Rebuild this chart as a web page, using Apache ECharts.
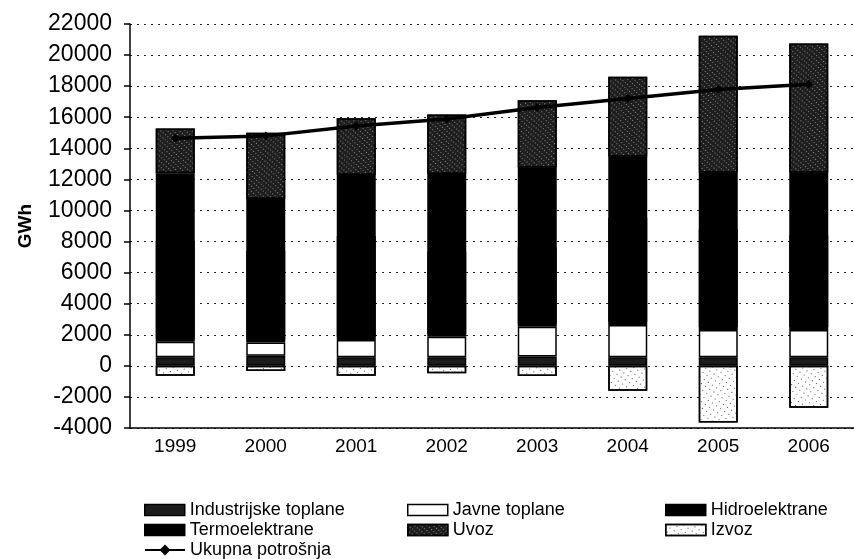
<!DOCTYPE html>
<html>
<head>
<meta charset="utf-8">
<script src="https://cdn.jsdelivr.net/npm/echarts@6/dist/echarts.min.js"></script>
<style>
html, body { margin: 0; padding: 0; background: #fff; }
#main { width: 854px; height: 559px; }
</style>
</head>
<body>
<div id="main"></div>
<script>
var years = ['1999', '2000', '2001', '2002', '2003', '2004', '2005', '2006'];
var industrijske = [550, 650, 550, 550, 600, 550, 550, 550];
var javne = [1000, 860, 1110, 1320, 1920, 2075, 1750, 1750];
var hidro = [6300, 5700, 6500, 5300, 4900, 6700, 6300, 5900];
var termo = [4540, 3520, 4120, 5170, 5330, 4135, 3830, 4230];
var uvoz = [2890, 4270, 3650, 3840, 4350, 5140, 8810, 8320];
var izvoz = [-640, -330, -640, -480, -650, -1600, -3640, -2700];
var ukupno = [14640, 14800, 15430, 15880, 16630, 17210, 17790, 18130];

var font = 'Liberation Sans, Arial, sans-serif';

function barSeries(name, data, color, border, decal) {
    var s = {
        name: name,
        type: 'bar',
        stack: 'gwh',
        barWidth: 39,
        data: data,
        itemStyle: {
            color: color,
            borderColor: '#000',
            borderWidth: border
        }
    };
    if (decal) s.itemStyle.decal = decal;
    return s;
}

// one legend per item so the 3x3 layout stays fixed
function legendItem(name, left, top) {
    return {
        left: left,
        top: top,
        itemWidth: 40,
        itemHeight: 11,
        icon: name == 'Ukupna potrošnja' ? undefined : 'rect',
        itemStyle: { borderWidth: 1.5, borderColor: '#000', shadowOffsetY: 0 },
        textStyle: { fontFamily: font, fontSize: 18, color: '#000' },
        data: [name]
    };
}

function initChart() {
    var chart = echarts.init(document.getElementById('main'));
    var hidroSeries = barSeries('Hidroelektrane', hidro, '#000', 1.5);
    // black shadow pushed up under the Termo block hides the anti-alias seam
    hidroSeries.itemStyle.shadowColor = '#000';
    hidroSeries.itemStyle.shadowBlur = 0;
    hidroSeries.itemStyle.shadowOffsetY = -3;
    var option = {
        animation: false,
        backgroundColor: '#fff',
        grid: { left: 130, top: 24, width: 736, height: 404 },
        legend: [
            legendItem('Industrijske toplane', 139, 496),
            legendItem('Javne toplane', 402, 496),
            legendItem('Hidroelektrane', 660, 496),
            legendItem('Termoelektrane', 139, 516),
            legendItem('Uvoz', 402, 516),
            legendItem('Izvoz', 660, 516),
            legendItem('Ukupna potrošnja', 139, 536)
        ],
        xAxis: {
            type: 'category',
            data: years,
            axisLine: { onZero: false, lineStyle: { color: '#000', width: 1.5 } },
            axisTick: { length: 6, lineStyle: { color: '#000', width: 1.5 } },
            axisLabel: { fontFamily: font, fontSize: 19, color: '#000', margin: 9 }
        },
        yAxis: {
            type: 'value',
            min: -4000,
            max: 22000,
            interval: 2000,
            name: 'GWh',
            nameLocation: 'middle',
            nameGap: 95,
            nameRotate: 90,
            nameTextStyle: { fontFamily: font, fontSize: 19, fontWeight: 'bold', color: '#000' },
            axisLine: { show: true, lineStyle: { color: '#000', width: 1.5 } },
            axisTick: { show: true, length: 6, lineStyle: { color: '#000', width: 1.5 } },
            axisLabel: {
                fontFamily: font, fontSize: 23, color: '#000', margin: 18,
                formatter: function (v) { return String(v); }
            },
            splitLine: { lineStyle: { color: '#222', width: 1, type: [2, 5] } }
        },
        series: [
            barSeries('Industrijske toplane', industrijske, '#1c1c1c', 1.5),
            barSeries('Javne toplane', javne, '#fff', 1.5),
            hidroSeries,
            barSeries('Termoelektrane', termo, '#000', 1.5),
            barSeries('Uvoz', uvoz, '#1e1e1e', 1.5, {
                symbol: 'rect', symbolSize: 0.8, dashArrayX: [1, 2], dashArrayY: [1, 3],
                rotation: 0.7, color: 'rgba(210,210,210,0.75)'
            }),
            barSeries('Izvoz', izvoz, '#fff', 1.5, {
                symbol: 'rect', symbolSize: 1, dashArrayX: [1, 4], dashArrayY: [1, 4],
                rotation: 0.6, color: '#555'
            }),
            {
                name: 'Ukupna potrošnja',
                type: 'line',
                data: ukupno,
                z: 5,
                symbol: 'diamond',
                symbolSize: 9,
                itemStyle: { color: '#000' },
                lineStyle: { color: '#000', width: 3.5 }
            }
        ]
    };
    chart.setOption(option);
}

initChart();
</script>
</body>
</html>
